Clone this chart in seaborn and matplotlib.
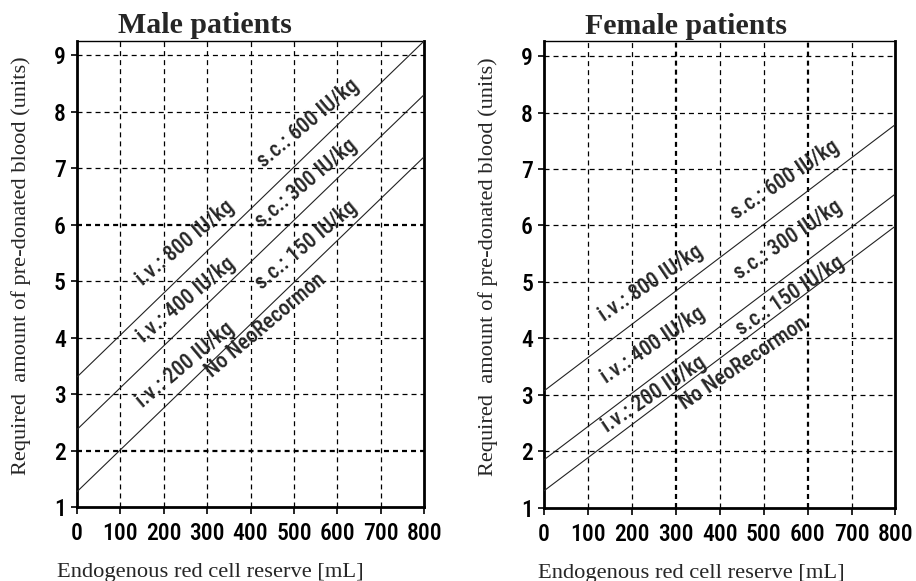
import pandas as pd
import matplotlib
matplotlib.use("Agg")
import matplotlib.pyplot as plt
import seaborn as sns
from matplotlib import font_manager as fm

# data (line end points at 0 and 800 mL)
reserve = [0, 800]
male_start = [3.30, 2.37, 1.27]
male_end = [9.25, 8.30, 7.20]
female_start = [3.07, 1.85, 1.30]
female_end = [7.79, 6.56, 5.99]
dose_groups = ["high", "mid", "low"]

iv_labels = ["i.v.: 800 IU/kg", "i.v.: 400 IU/kg", "i.v.: 200 IU/kg"]
sc_labels = ["s.c.: 600 IU/kg", "s.c.: 300 IU/kg", "s.c.: 150 IU/kg"]
none_label = "No NeoRecormon"

# label anchor points (mL, units)
male_iv_pos = [(249, 5.67), (251, 4.66), (249, 3.51)]
male_sc_pos = [(532, 7.80), (528, 6.73), (528, 5.64)]
male_none_pos = (435, 4.22)
female_iv_pos = [(243, 4.98), (248, 3.88), (251, 3.01)]
female_sc_pos = [(548, 6.81), (555, 5.74), (559, 4.75)]
female_none_pos = (455, 3.57)

x_ticks = [0, 100, 200, 300, 400, 500, 600, 700, 800]
y_ticks = [1, 2, 3, 4, 5, 6, 7, 8, 9]


def pick(names, default):
    for n in names:
        try:
            fm.findfont(fm.FontProperties(family=n), fallback_to_default=False)
            return n
        except Exception:
            pass
    return default


sns.set_style("white")
plt.rcParams["lines.scale_dashes"] = False
sans = pick(["Arial Narrow", "Liberation Sans Narrow", "Roboto Condensed", "Archivo Narrow",
             "PT Sans Narrow", "Liberation Sans"], "DejaVu Sans")
serif = pick(["Tinos", "Liberation Serif", "Times New Roman", "DejaVu Serif"], "DejaVu Serif")
plt.rcParams["font.family"] = [sans, "DejaVu Sans"]
plt.rcParams["font.weight"] = "medium"


def make_df(start, end):
    rows = []
    for g, s, e in zip(dose_groups, start, end):
        rows.append({"reserve": reserve[0], "units": s, "dose": g})
        rows.append({"reserve": reserve[1], "units": e, "dose": g})
    return pd.DataFrame(rows)


fig = plt.figure(figsize=(9.16, 5.81), dpi=100)
ax_m = fig.add_axes([0.084, 0.1274, 0.379, 0.802])
ax_f = fig.add_axes([0.594, 0.1262, 0.3836, 0.8024])

panels = [
    (ax_m, "Male patients", make_df(male_start, male_end), male_iv_pos, male_sc_pos,
     male_none_pos, 40, ("y", [2, 6]), 0.369, 0.383, 9.25),
    (ax_f, "Female patients", make_df(female_start, female_end), female_iv_pos, female_sc_pos,
     female_none_pos, 34, ("x", [300, 600]), 0.405, 0.419, 9.26),
]

for ax, title, df, iv_pos, sc_pos, none_pos, rot, thick, tx, lx, ytop in panels:
    ax.set_xlim(0, 800)
    ax.set_ylim(1, ytop)

    # dashed grid, some lines heavier
    for xv in x_ticks[1:-1]:
        lw = 1.6 if (thick[0] == "x" and xv in thick[1]) else 0.9
        ax.axvline(xv, color="black", lw=lw, ls=(0, (3.6, 2.9)), zorder=1)
    for yv in y_ticks[1:]:
        lw = 1.6 if (thick[0] == "y" and yv in thick[1]) else 0.9
        ax.axhline(yv, color="black", lw=lw, ls=(0, (3.6, 2.9)), zorder=1)

    sns.lineplot(data=df, x="reserve", y="units", hue="dose", palette=["#222222"] * 3,
                 legend=False, lw=0.8, ax=ax, zorder=3)

    for lab, (px, py) in zip(iv_labels, iv_pos):
        ax.text(px, py, lab, rotation=rot, ha="center", va="center", fontsize=15.5,
                rotation_mode="anchor", zorder=4)
    for lab, (px, py) in zip(sc_labels, sc_pos):
        ax.text(px, py, lab, rotation=rot, ha="center", va="center", fontsize=15.5,
                rotation_mode="anchor", zorder=4)
    ax.text(none_pos[0], none_pos[1], none_label, rotation=rot, ha="center", va="center",
            fontsize=15.5, rotation_mode="anchor", zorder=4)

    ax.set_xticks(x_ticks)
    ax.set_yticks(y_ticks)
    ax.tick_params(axis="x", direction="out", length=5, width=1.2, pad=6, labelsize=17, colors="black")
    ax.tick_params(axis="y", direction="out", length=4, width=1.2, pad=4, labelsize=17, colors="black")
    ax.tick_params(bottom=True, left=True)

    for side, lw in [("left", 2.0), ("bottom", 2.0), ("right", 2.0), ("top", 1.0)]:
        ax.spines[side].set_visible(True)
        ax.spines[side].set_color("black")
        ax.spines[side].set_linewidth(lw)

    ax.set_xlabel("")
    ax.set_ylabel("")
    ax.text(tx, 1.017, title, transform=ax.transAxes, ha="center", va="baseline",
            fontsize=21.5, fontweight="bold", family=serif)
    ax.text(lx, -0.150, "Endogenous red cell reserve [mL]", transform=ax.transAxes,
            ha="center", va="baseline", fontsize=16.2, fontweight="normal", family=serif)
    ax.text(-0.160, 0.517, "Required  amount of pre-donated blood (units)", transform=ax.transAxes,
            ha="center", va="center", rotation=90, fontsize=16.1, fontweight="normal", family=serif)

fig.savefig("out.png", dpi=100)
